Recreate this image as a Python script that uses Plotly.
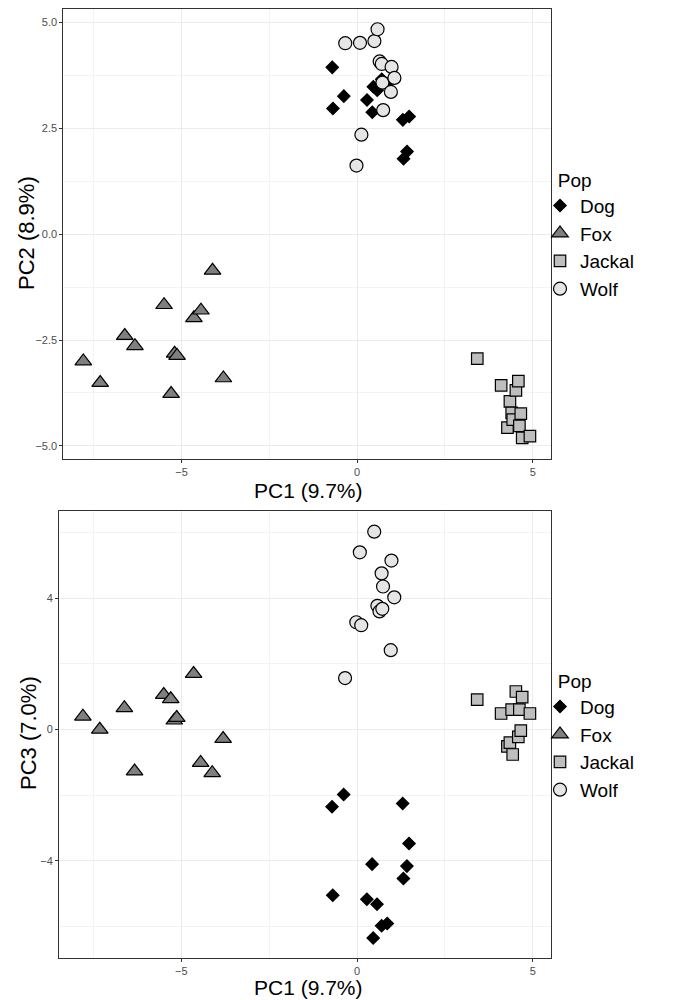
import plotly.graph_objects as go

# ---- data ----
pops = ["Dog", "Fox", "Jackal", "Wolf"]

dog_pc1 = [-0.71, -0.69, -0.38, 0.28, 0.43, 0.46, 0.57, 0.70, 0.86, 1.30, 1.32, 1.42, 1.48]
dog_pc2 = [3.94, 2.97, 3.26, 3.17, 2.88, 3.48, 3.40, 3.66, 3.55, 2.70, 1.78, 1.95, 2.78]
dog_pc3 = [-2.35, -5.05, -1.98, -5.17, -4.10, -6.35, -5.32, -5.98, -5.91, -2.25, -4.54, -4.16, -3.47]

fox_pc1 = [-7.80, -7.32, -6.62, -6.33, -5.50, -5.30, -5.20, -5.13, -4.65, -4.45, -4.12, -3.81]
fox_pc2 = [-3.00, -3.51, -2.40, -2.64, -1.67, -3.77, -2.82, -2.87, -1.98, -1.80, -0.86, -3.40]
fox_pc3 = [0.40, 0.00, 0.66, -1.27, 1.06, 0.93, 0.28, 0.36, 1.70, -1.01, -1.32, -0.28]

jackal_pc1 = [3.42, 4.10, 4.28, 4.35, 4.40, 4.43, 4.52, 4.59, 4.62, 4.66, 4.70, 4.92]
jackal_pc2 = [-2.94, -3.57, -4.57, -3.95, -4.22, -4.38, -3.69, -3.47, -4.53, -4.24, -4.81, -4.77]
jackal_pc3 = [0.91, 0.49, -0.51, -0.40, 0.61, -0.76, 1.16, -0.22, 0.61, -0.03, 0.99, 0.49]

wolf_pc1 = [-0.34, -0.02, 0.08, 0.12, 0.49, 0.58, 0.64, 0.70, 0.72, 0.74, 0.96, 0.98, 1.06]
wolf_pc2 = [4.51, 1.62, 4.52, 2.35, 4.56, 4.84, 4.08, 4.02, 3.58, 2.93, 3.36, 3.95, 3.69]
wolf_pc3 = [1.57, 3.27, 5.40, 3.18, 6.03, 3.77, 3.60, 4.76, 3.68, 4.36, 2.42, 5.15, 4.03]

x_title = "PC1 (9.7%)"
y_title_top = "PC2 (8.9%)"
y_title_bottom = "PC3 (7.0%)"

# ---- styles ----
FONT = "Liberation Sans, Arial, sans-serif"
styles = {
    "Dog": dict(symbol="diamond", color="#000000", size=9.5),
    "Fox": dict(symbol="triangle-up", color="#7F7F7F", size=14.5),
    "Jackal": dict(symbol="square", color="#BEBEBE", size=11.5),
    "Wolf": dict(symbol="circle", color="#E5E5E5", size=13),
}
series = {
    "Dog": (dog_pc1, dog_pc2, dog_pc3),
    "Fox": (fox_pc1, fox_pc2, fox_pc3),
    "Jackal": (jackal_pc1, jackal_pc2, jackal_pc3),
    "Wolf": (wolf_pc1, wolf_pc2, wolf_pc3),
}

fig = go.Figure()
for p in pops:
    s = styles[p]
    pc1, pc2, pc3 = series[p]
    marker = dict(symbol=s["symbol"], color=s["color"], size=s["size"],
                  line=dict(color="#000000", width=1.2))
    fig.add_trace(go.Scatter(x=pc1, y=pc2, mode="markers", name=p, marker=marker,
                             xaxis="x", yaxis="y", legend="legend"))
for p in pops:
    s = styles[p]
    pc1, pc2, pc3 = series[p]
    marker = dict(symbol=s["symbol"], color=s["color"], size=s["size"],
                  line=dict(color="#000000", width=1.2))
    fig.add_trace(go.Scatter(x=pc1, y=pc3, mode="markers", name=p, marker=marker,
                             xaxis="x2", yaxis="y2", legend="legend2"))

# page offset (browser body margin)
OFF = 8
W, H = 683, 1000
ml = 59 - OFF
mt = 0
mb = H - (958 - OFF)
mr = W - (551 - OFF)
pw, ph = W - ml - mr, H - mt - mb

def py(page_y):
    return (H - mb - (page_y - OFF)) / ph

def px(page_x):
    return (page_x - OFF - ml) / pw

axis_common = dict(
    showgrid=True, gridcolor="#EBEBEB", gridwidth=1,
    zeroline=False, showline=True, mirror=True, linecolor="#333333", linewidth=1,
    ticks="outside", ticklen=3, tickcolor="#333333", tickwidth=1,
    tickfont=dict(family=FONT, size=11, color="#4D4D4D"),
)
title_font = dict(family=FONT, size=22, color="#000000")
xtitle_font = dict(family=FONT, size=21, color="#000000")
minor_grid = dict(showgrid=True, gridcolor="#F3F3F3", gridwidth=1)

annotations = [
    dict(text=x_title, x=px(308), y=py(490), xref="paper", yref="paper", borderpad=0,
         xanchor="center", yanchor="middle", showarrow=False, font=xtitle_font),
    dict(text=x_title, x=px(308), y=py(987), xref="paper", yref="paper", borderpad=0,
         xanchor="center", yanchor="middle", showarrow=False, font=xtitle_font),
    dict(text=y_title_top, x=px(27), y=py(233), xref="paper", yref="paper", borderpad=0,
         xanchor="center", yanchor="middle", showarrow=False, textangle=-90, font=title_font),
    dict(text=y_title_bottom, x=px(28), y=py(733), xref="paper", yref="paper", borderpad=0,
         xanchor="center", yanchor="middle", showarrow=False, textangle=-90, font=title_font),
]

legend_common = dict(
    xanchor="left", yanchor="middle", bgcolor="rgba(0,0,0,0)", itemwidth=30, tracegroupgap=0,
    font=dict(family=FONT, size=19, color="#000000"),
    title=dict(text="\u00a0\u00a0\u00a0Pop", font=dict(family=FONT, size=19, color="#000000")),
)

fig.update_layout(
    width=W, height=H,
    margin=dict(l=ml, r=mr, t=mt, b=mb, autoexpand=False),
    paper_bgcolor="white", plot_bgcolor="white",
    font=dict(family=FONT),
    xaxis=dict(domain=[px(63.3), 1], range=[-8.37, 5.52], anchor="y", tick0=0, dtick=5,
               minor=dict(dtick=2.5, **minor_grid), **axis_common),
    yaxis=dict(domain=[py(459), min(1, py(8.5))], range=[-5.31, 5.33], anchor="x", tick0=0, dtick=2.5,
               tickformat=".1f", minor=dict(dtick=1.25, **minor_grid), **axis_common),
    xaxis2=dict(domain=[0, 1], range=[-8.48, 5.52], anchor="y2", tick0=0, dtick=5,
                minor=dict(dtick=2.5, **minor_grid), **axis_common),
    yaxis2=dict(domain=[0, py(511)], range=[-6.96, 6.66], anchor="x2", tick0=0, dtick=4,
                minor=dict(dtick=2, **minor_grid), **axis_common),
    legend=dict(x=px(540), y=py(235), **legend_common),
    legend2=dict(x=px(540), y=py(736), **legend_common),
    annotations=annotations,
    showlegend=True,
)

fig.write_html("out.html")
